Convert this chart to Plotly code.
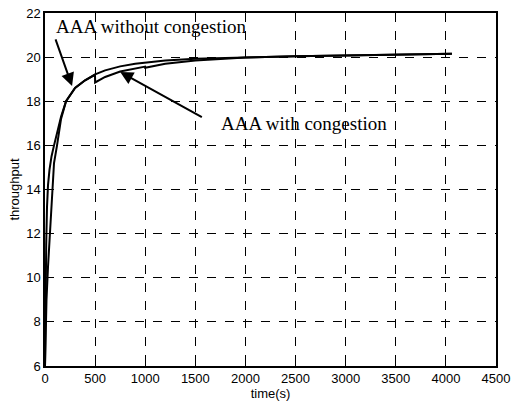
import plotly.graph_objects as go

t_without = [0, 5, 15, 30, 50, 70, 90, 120, 160, 210, 300, 400, 500, 600, 750, 900, 1000, 1200, 1500, 2000, 2500, 3000, 3500, 4000, 4060]
thr_without = [6, 7.5, 9, 10.5, 12, 14, 15.2, 16, 17.2, 18, 18.6, 18.95, 19.22, 19.4, 19.58, 19.7, 19.75, 19.85, 19.93, 20.0, 20.04, 20.07, 20.1, 20.14, 20.15]

t_with = [0, 5, 12, 20, 30, 45, 65, 90, 120, 160, 210, 300, 400, 499, 500, 600, 750, 900, 999, 1000, 1200, 1500, 2000, 2500, 3000, 3500, 4000, 4060]
thr_with = [6, 9.2, 11.5, 13.2, 14.2, 14.9, 15.5, 16.0, 16.6, 17.3, 18.0, 18.6, 18.95, 19.2, 18.85, 19.1, 19.35, 19.5, 19.57, 19.52, 19.7, 19.85, 19.98, 20.04, 20.07, 20.1, 20.14, 20.15]

x_ticks = [0, 500, 1000, 1500, 2000, 2500, 3000, 3500, 4000, 4500]
y_ticks = [6, 8, 10, 12, 14, 16, 18, 20, 22]

fig = go.Figure()
fig.add_trace(go.Scatter(x=t_with, y=thr_with, mode="lines",
                         line=dict(color="black", width=2), name="AAA with congestion"))
fig.add_trace(go.Scatter(x=t_without, y=thr_without, mode="lines",
                         line=dict(color="black", width=2), name="AAA without congestion"))

tick_font = dict(family="Liberation Sans, Arial", size=13, color="black")
axis_common = dict(showline=True, linecolor="black", linewidth=1.5, mirror=True,
                   showgrid=True, gridcolor="black", griddash="dash", gridwidth=1,
                   ticks="inside", ticklen=4, tickcolor="black", zeroline=False,
                   tickfont=tick_font, automargin=False)

fig.update_xaxes(range=[0, 4500], tickvals=x_ticks, ticktext=[str(v) for v in x_ticks],
                 title=dict(text="time(s)", font=tick_font, standoff=4), **axis_common)
fig.update_yaxes(range=[6, 22], tickvals=y_ticks, ticktext=[str(v) for v in y_ticks],
                 title=dict(text="throughput", font=tick_font, standoff=4), **axis_common)

ann_font = dict(family="Liberation Serif, Times New Roman", size=19, color="black")
fig.add_annotation(x=1060, y=21.37, text="AAA without congestion", showarrow=False, font=ann_font)
fig.add_annotation(x=2580, y=17.0, text="AAA with congestion", showarrow=False, font=ann_font)
fig.add_annotation(x=270, y=18.69, ax=100, ay=20.87, axref="x", ayref="y", text="",
                   showarrow=True, arrowhead=2, arrowsize=1.3, arrowwidth=2, arrowcolor="black",
                   standoff=0, startstandoff=0)
fig.add_annotation(x=750, y=19.33, ax=1580, ay=17.24, axref="x", ayref="y", text="",
                   showarrow=True, arrowhead=2, arrowsize=1.3, arrowwidth=2, arrowcolor="black",
                   standoff=0, startstandoff=0)

fig.update_layout(width=511, height=407, margin=dict(l=45, r=15, t=13, b=41),
                  plot_bgcolor="white", paper_bgcolor="white", showlegend=False)

fig.write_html("out.html", config={"displayModeBar": False},
               post_script="document.body.style.margin='0';document.body.style.padding='0';")
